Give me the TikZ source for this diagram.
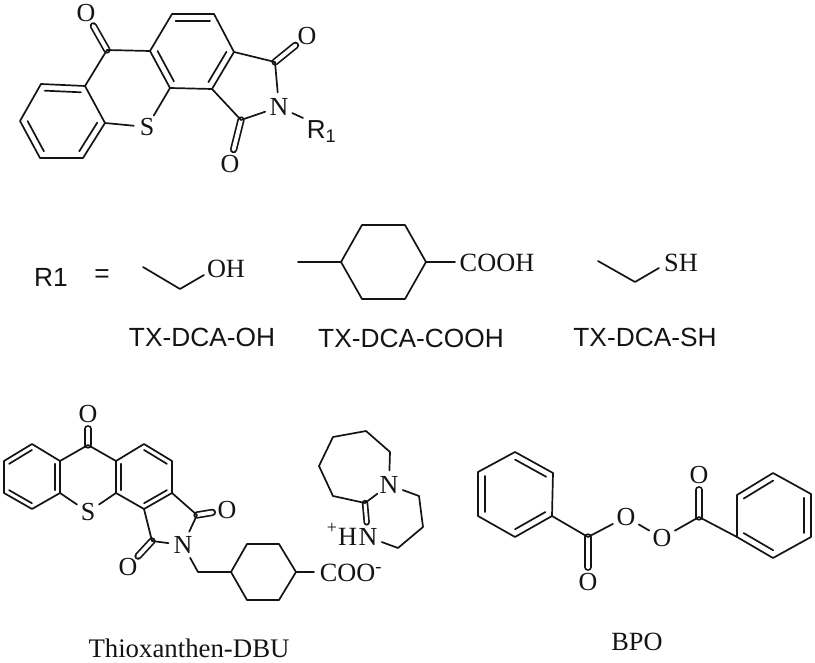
\documentclass[tikz,border=0pt]{standalone}
\usepackage{fontspec}
\setmainfont{Liberation Serif}
\setsansfont{Liberation Sans}
\usetikzlibrary{calc}
\newcommand{\inb}[3]{\draw ($(#1)!.18!(#3)$) -- ($(#2)!.18!(#3)$);}
\tikzset{
  bond/.style={line width=1.7pt,line cap=round,line join=round,color=black!92},
  dbond/.style={line width=1.7pt,double,double distance=3.9pt},
  atom/.style={circle,inner sep=0.8pt,font=\fontsize{26}{28}\selectfont},
  serifcap/.style={inner sep=0pt,font=\fontsize{26.3}{30}\selectfont},
  sanslabel/.style={inner sep=0pt,font=\sffamily\fontsize{26.3}{30}\selectfont},
}
\begin{document}
\begin{tikzpicture}[x=1pt,y=-1pt]
\useasboundingbox[fill=white] (0,0) rectangle (815,663);
\begin{scope}[bond]
% ---------- top molecule
\foreach \n/\x/\y in {a1/41/84,a2/85/86,a3/105/123,a4/83/158,a5/40/158,a6/20/121,ac/62/121,
  k/107/50,b1/150/51,b2/172/14,b3/214/14,b4/234/52,b5/212/89,b6/170/88,bc/192/51,
  i1/275/62,i2/241/120,rend/303/118}
  \coordinate (\n) at (\x,\y);
\node[atom] (ko) at (86,13) {O};
\node[atom] (s) at (147,127) {S};
\node[atom] (n) at (279,107) {N};
\node[atom] (o1) at (307,36) {O};
\node[atom] (o2) at (230,164) {O};
\node[inner sep=0pt,anchor=west,font=\sffamily\fontsize{26}{30}\selectfont] (r) at (306,132) {R\textsubscript{1}};
\draw[dbond] (k) -- (ko);
\draw[dbond] (i1) -- (o1);
\draw[dbond] (i2) -- (o2);
\draw (a1) -- (a2) -- (a3) -- (a4) -- (a5) -- (a6) -- cycle;
\draw (a2) -- (k) -- (b1) -- (b2) -- (b3) -- (b4) -- (b5) -- (b6) -- (b1);
\draw (a3) -- (s) -- (b6);
\draw (b4) -- (i1) -- (n) -- (i2) -- (b5);
\draw (n) -- (rend);
\inb{a1}{a2}{ac} \inb{a3}{a4}{ac} \inb{a5}{a6}{ac}
\inb{b1}{b6}{bc} \inb{b2}{b3}{bc} \inb{b4}{b5}{bc}
% ---------- R1 line
\node[sanslabel] (rl) at (51,277) {R1};
\node[sanslabel] (eq) at (102,276) {=};
\coordinate (oh1) at (143,267); \coordinate (oh2) at (180,289); \coordinate (oh3) at (204,275);
\node[serifcap] (oh) at (226,269) {OH};
\draw (oh1) -- (oh2) -- (oh3);
\coordinate (c0) at (298,262); \coordinate (c1) at (341,262); \coordinate (c2) at (362,225);
\coordinate (c3) at (405,225); \coordinate (c4) at (426,262); \coordinate (c5) at (405,299);
\coordinate (c6) at (362,299); \coordinate (c7) at (455,262);
\node[serifcap] (cooh) at (497,263) {COOH};
\draw (c0) -- (c1) -- (c2) -- (c3) -- (c4) -- (c5) -- (c6) -- (c1);
\draw (c4) -- (c7);
\coordinate (sh1) at (598,261); \coordinate (sh2) at (635,282); \coordinate (sh3) at (659,268);
\node[serifcap] (sh) at (681,263) {SH};
\draw (sh1) -- (sh2) -- (sh3);
\node[sanslabel] (l1) at (202,337) {TX-DCA-OH};
\node[sanslabel] (l2) at (411,338) {TX-DCA-COOH};
\node[sanslabel] (l3) at (645,337) {TX-DCA-SH};
% ---------- Thioxanthen-DBU
\foreach \n/\x/\y in {d1/32/444,d2/60/461,d3/60/493,d4/32/509,d5/4/493,d6/4/461,dc/32/477,
  m/88/445,e1/116/461,e2/144/444,e3/172/461,e4/172/493,e5/144/509,e6/116/493,ec/144/477,
  j1/197/515,j2/152/541,ch/198/572,g1/231/572,g2/247/544,g3/279/544,g4/296/572,g5/279/600,g6/247/600,gend/314/572}
  \coordinate (\n) at (\x,\y);
\node[atom] (mo) at (88,414) {O};
\node[atom] (s2) at (88,512) {S};
\node[atom] (n2) at (183,545) {N};
\node[atom] (o3) at (227,510) {O};
\node[atom] (o4) at (128,567) {O};
\node[serifcap,anchor=west] (coo) at (319,573) {COO\textsuperscript{-}};
\draw[dbond] (m) -- (mo);
\draw[dbond] (j1) -- (o3);
\draw[dbond] (j2) -- (o4);
\draw (d1) -- (d2) -- (d3) -- (d4) -- (d5) -- (d6) -- cycle;
\draw (d2) -- (m) -- (e1) -- (e2) -- (e3) -- (e4) -- (e5) -- (e6) -- (e1);
\draw (d3) -- (s2) -- (e6);
\draw (e4) -- (j1) -- (n2) -- (j2) -- (e5);
\draw (n2) -- (ch) -- (g1) -- (g2) -- (g3) -- (g4) -- (g5) -- (g6) -- (g1);
\draw (g4) -- (gend);
\inb{d6}{d1}{dc} \inb{d2}{d3}{dc} \inb{d4}{d5}{dc}
\inb{e1}{e6}{ec} \inb{e2}{e3}{ec} \inb{e4}{e5}{ec}
\node[serifcap,font=\fontsize{26.8}{30}\selectfont] (l4) at (189,648) {Thioxanthen-DBU};
% ---------- DBU cation
\coordinate (f1) at (390,452); \coordinate (f2) at (366,431); \coordinate (f3) at (333,437);
\coordinate (f4) at (319,466); \coordinate (f5) at (333,496); \coordinate (f6) at (365,503);
\coordinate (h1) at (419,496); \coordinate (h2) at (423,527); \coordinate (h3) at (398,548);
\node[atom] (dn) at (389,485) {N};
\node[atom] (dn2) at (368,537) {N};
\node[serifcap,anchor=east] (dh) at (358,537) {H};
\node[inner sep=0pt,font=\fontsize{18}{20}\selectfont] (plus) at (332,528) {+};
\draw[dbond,double distance=3pt] (f6) -- (dn2);
\draw (dn) -- (f1) -- (f2) -- (f3) -- (f4) -- (f5) -- (f6) -- (dn);
\draw (dn) -- (h1) -- (h2) -- (h3) -- (dn2);
% ---------- BPO
\foreach \n/\x/\y in {p1/515/452,p2/553/473,p3/552/516,p4/515/537,p5/478/516,p6/478/472,pc/515/494,
  q/588/537,w/699/517,t1/737/495,t2/773/473,t3/811/494,t4/811/537,t5/773/558,t6/737/537,tc/774/515}
  \coordinate (\n) at (\x,\y);
\node[atom] (qo) at (588,582) {O};
\node[atom] (po1) at (626,517) {O};
\node[atom] (po2) at (662,538) {O};
\node[atom] (wo) at (699,475) {O};
\draw[dbond] (q) -- (qo);
\draw[dbond] (w) -- (wo);
\draw (p1) -- (p2) -- (p3) -- (p4) -- (p5) -- (p6) -- cycle;
\draw (p3) -- (q) -- (po1) -- (po2) -- (w) -- (t6);
\draw (t1) -- (t2) -- (t3) -- (t4) -- (t5) -- (t6) -- cycle;
\inb{p1}{p2}{pc} \inb{p3}{p4}{pc} \inb{p5}{p6}{pc}
\inb{t1}{t2}{tc} \inb{t3}{t4}{tc} \inb{t5}{t6}{tc}
\node[serifcap] (l5) at (637,642) {BPO};
\end{scope}
\end{tikzpicture}
\end{document}
